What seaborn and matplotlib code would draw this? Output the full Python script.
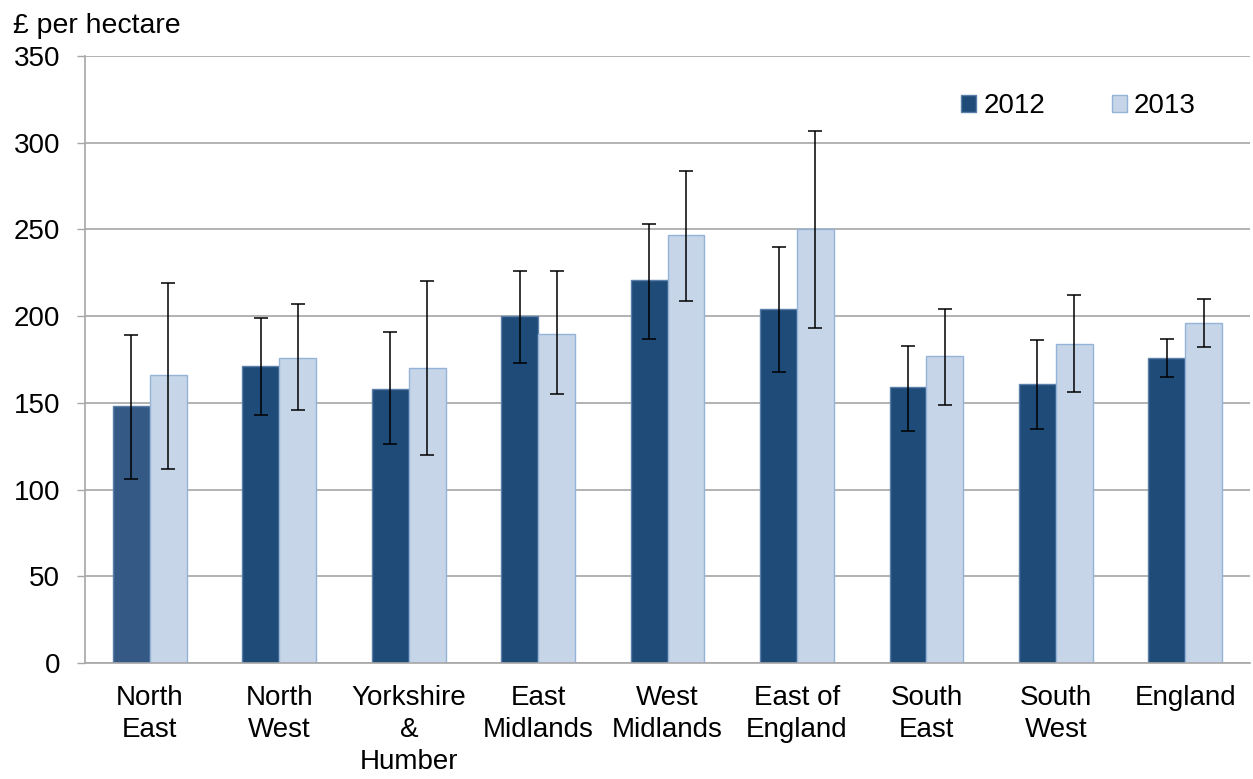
import numpy as np
import pandas as pd
import matplotlib
matplotlib.use('Agg')
import matplotlib.pyplot as plt
from matplotlib.patches import Patch
import seaborn as sns

regions = ['North\nEast', 'North\nWest', 'Yorkshire\n&\nHumber', 'East\nMidlands',
           'West\nMidlands', 'East of\nEngland', 'South\nEast', 'South\nWest', 'England']
years = ['2012', '2013']

# values (£ per hectare)
vals_2012 = [148, 171, 158, 200, 221, 204, 159, 161, 176]
vals_2013 = [166, 176, 170, 190, 247, 250, 177, 184, 196]
# error bar ends (lower, upper)
lo_2012 = [106, 143, 126, 173, 187, 168, 134, 135, 165]
hi_2012 = [189, 199, 191, 226, 253, 240, 183, 186, 187]
lo_2013 = [112, 146, 120, 155, 209, 193, 149, 156, 182]
hi_2013 = [219, 207, 220, 226, 284, 307, 204, 212, 210]

dark = '#1f4b79'
light = '#c6d5e8'

df = pd.DataFrame({
    'region': regions * 2,
    'year': [years[0]] * len(regions) + [years[1]] * len(regions),
    'value': vals_2012 + vals_2013,
})

sns.set_style('white')
plt.rcParams['font.family'] = ['Liberation Sans', 'DejaVu Sans']
plt.rcParams['text.color'] = 'black'

fig, ax = plt.subplots(figsize=(12.53, 7.79), dpi=100)
fig.subplots_adjust(left=0.068, right=0.9976, top=0.928, bottom=0.149)

sns.barplot(data=df, x='region', y='value', hue='year', hue_order=years,
            palette=[dark, light], width=0.57, errorbar=None, legend=False,
            saturation=1, ax=ax)

# error bars placed on the bar centres
errs = [(vals_2012, lo_2012, hi_2012, '#5a7fa8'), (vals_2013, lo_2013, hi_2013, '#95b3d7')]
for cont, (v, lo, hi, ec) in zip(ax.containers, errs):
    xs = [b.get_x() + b.get_width() / 2 for b in cont]
    v = np.array(v)
    yerr = [v - np.array(lo), np.array(hi) - v]
    for b in cont:
        b.set_edgecolor(ec)
        b.set_linewidth(1.0)
    ax.errorbar(xs, v, yerr=yerr, fmt='none', ecolor='black', elinewidth=1.1,
                capsize=5, capthick=1.1, zorder=5)

# first bar is drawn a touch lighter in the original
ax.containers[0][0].set_facecolor('#345985')

ax.set_ylim(0, 350)
ax.set_yticks(range(0, 351, 50))
ax.set_xlim(-0.5, len(regions) - 0.5)
ax.yaxis.grid(True, color='#a6a6a6', linewidth=1.2)
ax.set_axisbelow(True)
ax.set_xlabel('')
ax.set_ylabel('')

ax.set_xticks(range(len(regions)))
ax.set_xticks(np.arange(-0.5, len(regions), 1.0), minor=True)
ax.set_xticklabels(regions, linespacing=1.3)
ax.tick_params(axis='x', which='major', length=0, pad=16, labelsize=20, labelcolor='black')
ax.tick_params(axis='x', which='minor', length=7, width=1, color='#a6a6a6', direction='out')
ax.tick_params(axis='y', length=6, width=1, color='#a6a6a6', pad=12, labelsize=20,
               labelcolor='black', left=True)

for s in ['top', 'right']:
    ax.spines[s].set_visible(False)
for s in ['left', 'bottom']:
    ax.spines[s].set_color('#a6a6a6')
    ax.spines[s].set_linewidth(1.2)

ax.text(-0.062, 1.038, '£ per hectare', transform=ax.transAxes, fontsize=20.5,
        ha='left', va='baseline')

handles = [Patch(facecolor=dark, edgecolor='#5a7fa8'),
           Patch(facecolor=light, edgecolor='#95b3d7')]
ax.legend(handles, years, ncol=2, frameon=False, fontsize=20,
          loc='upper right', bbox_to_anchor=(0.975, 0.98),
          handlelength=0.55, handleheight=0.55, handletextpad=0.25, columnspacing=2.4)

fig.savefig('out.png', dpi=100)
